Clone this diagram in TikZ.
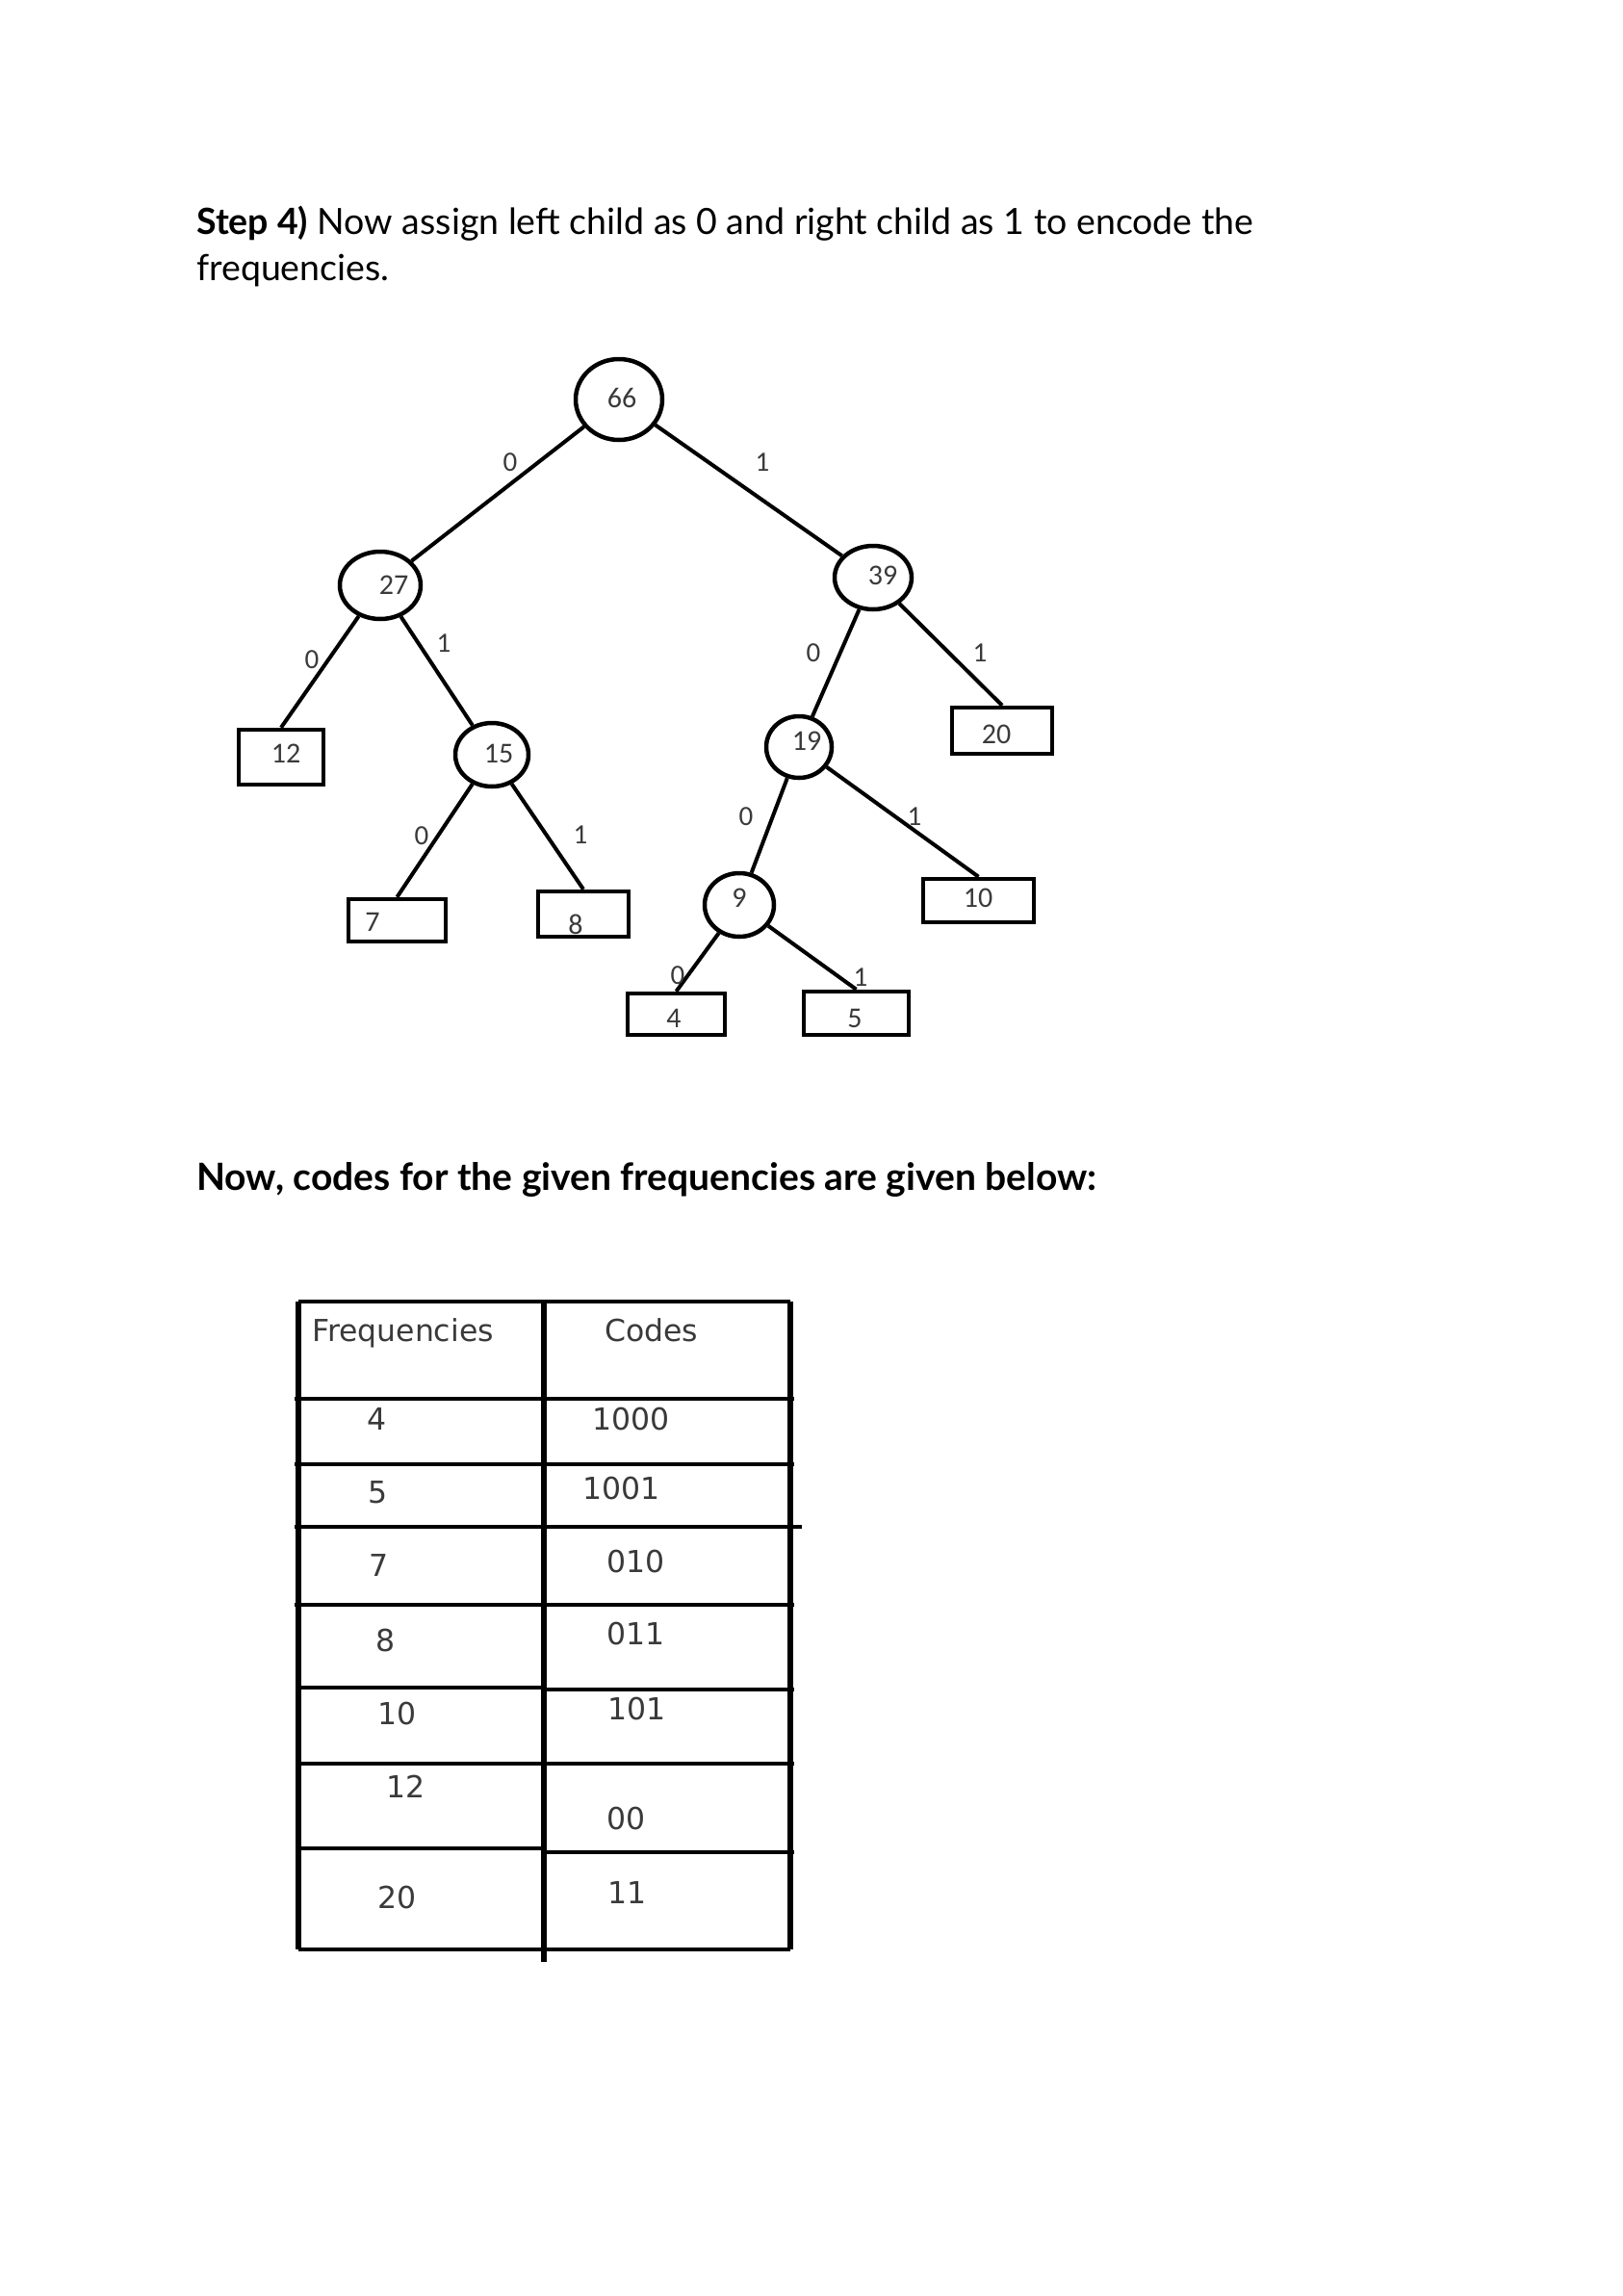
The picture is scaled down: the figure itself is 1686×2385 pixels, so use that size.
\documentclass[tikz,border=0pt]{standalone}
\usepackage{fontspec}
\setmainfont{Lato}
\newfontfamily\treefont{Carlito}
\newfontfamily\tabfont{DejaVu Sans}
\usetikzlibrary{shapes.geometric}
\definecolor{txt}{HTML}{3A3A3A}
\begin{document}
\begin{tikzpicture}[x=1pt,y=-1pt,
  inode/.style={ellipse, draw, line width=4.5pt, inner sep=0pt},
  leaf/.style={rectangle, draw, line width=4.5pt, inner sep=0pt},
  num/.style={font=\treefont\fontsize{30}{30}\selectfont, text=txt, inner sep=0pt},
  edge/.style={line width=4pt},
  bit/.style={font=\treefont\fontsize{29}{29}\selectfont, text=txt, inner sep=0pt},
  cell/.style={font=\tabfont\fontsize{31.5}{31.5}\selectfont, text=txt, inner sep=0pt, anchor=base west},
  hrule/.style={line width=4.5pt},
  vrule/.style={line width=6.5pt},
  head/.style={anchor=base west, inner sep=0pt, font=\fontsize{37.5}{45}\selectfont},
  headb/.style={anchor=base west, inner sep=0pt, font=\bfseries\fontsize{39}{45}\selectfont}
]
\fill[white, use as bounding box] (0,0) rectangle (1686,2385);

% headings
\node[head] (h1) at (204,243) {\textbf{Step 4)} Now assign left child as 0 and right child as 1 to encode the};
\node[head] (h1b) at (204,291) {frequencies.};
\node[headb] (h2) at (204,1236) {Now, codes for the given frequencies are given below:};

% internal nodes
\node[inode, minimum width=90, minimum height=84] (n66) at (643,415) {};
\node[inode, minimum width=84, minimum height=70] (n27) at (395,608) {};
\node[inode, minimum width=76, minimum height=66] (n15) at (511,784) {};
\node[inode, minimum width=80, minimum height=66] (n39) at (907,600) {};
\node[inode, minimum width=68, minimum height=64] (n19) at (830,776) {};
\node[inode, minimum width=72, minimum height=66] (n9) at (768,940) {};

\node[num] (t66) at (646,413) {66};
\node[num] (t27) at (409,608) {27};
\node[num] (t15) at (518,783) {15};
\node[num] (t39) at (917,598) {39};
\node[num] (t19) at (838,770) {19};
\node[num] (t9) at (768,933) {9};

% leaves
\node[leaf, minimum width=88, minimum height=57] (l12) at (292,786.5) {};
\node[leaf, minimum width=101, minimum height=44] (l7) at (412.5,956) {};
\node[leaf, minimum width=94, minimum height=47] (l8) at (606,949.5) {};
\node[leaf, minimum width=104, minimum height=48] (l20) at (1041,759) {};
\node[leaf, minimum width=115, minimum height=45] (l10) at (1016.5,935.5) {};
\node[leaf, minimum width=101, minimum height=43] (l4) at (702.5,1053.5) {};
\node[leaf, minimum width=109, minimum height=45] (l5) at (889.5,1052.5) {};

\node[num] (t12) at (297,783) {12};
\node[num] (t7) at (387,958) {7};
\node[num] (t8) at (598,960) {8};
\node[num] (t20) at (1035,763) {20};
\node[num] (t10) at (1016,933) {10};
\node[num] (t4) at (700,1058) {4};
\node[num] (t5) at (888,1058) {5};

% edges
\draw[edge] (n66) -- (n27);
\draw[edge] (n66) -- (n39);
\draw[edge] (n27) -- (l12.north);
\draw[edge] (n27) -- (n15);
\draw[edge] (n15) -- (l7.north);
\draw[edge] (n15) -- (l8.north);
\draw[edge] (n39) -- (n19);
\draw[edge] (n39) -- (l20.north);
\draw[edge] (n19) -- (n9);
\draw[edge] (n19) -- (l10.north);
\draw[edge] (n9) -- (l4.north);
\draw[edge] (n9) -- (l5.north);

% edge labels
\node[bit] (b1) at (530,480) {0};
\node[bit] (b2) at (792,480) {1};
\node[bit] (b3) at (324,685) {0};
\node[bit] (b4) at (461,668) {1};
\node[bit] (b5) at (845,678) {0};
\node[bit] (b6) at (1018,678) {1};
\node[bit] (b7) at (438,868) {0};
\node[bit] (b8) at (603,867) {1};
\node[bit] (b9) at (775,848) {0};
\node[bit] (b10) at (950,848) {1};
\node[bit] (b11) at (704,1013) {0};
\node[bit] (b12) at (894,1015) {1};

% table
\draw[hrule] (310,1352) -- (821,1352);
\draw[hrule] (310,2025) -- (821,2025);
\draw[vrule] (310,1352) -- (310,2025);
\draw[vrule] (821,1352) -- (821,2025);
\draw[vrule] (565,1352) -- (565,2038);
\draw[hrule] (306,1453) -- (825,1453);
\draw[hrule] (306,1521) -- (825,1521);
\draw[hrule] (306,1586) -- (833,1586);
\draw[hrule] (306,1667) -- (825,1667);
\draw[hrule] (310,1753) -- (565,1753) -- (565,1755) -- (825,1755);
\draw[hrule] (310,1832) -- (825,1832);
\draw[hrule] (310,1920) -- (565,1920) -- (565,1924) -- (825,1924);

\node[cell] (c0a) at (324,1393) {Frequencies};
\node[cell] (c0b) at (628,1393) {Codes};
\node[cell] (c1a) at (381,1485) {4};
\node[cell] (c1b) at (615,1485) {1000};
\node[cell] (c2a) at (382,1561) {5};
\node[cell] (c2b) at (605,1557) {1001};
\node[cell] (c3a) at (383,1637) {7};
\node[cell] (c3b) at (630,1633) {010};
\node[cell] (c4a) at (390,1715) {8};
\node[cell] (c4b) at (630,1708) {011};
\node[cell] (c5a) at (392,1791) {10};
\node[cell] (c5b) at (631,1786) {101};
\node[cell] (c6a) at (401,1867) {12};
\node[cell] (c6b) at (630,1900) {00};
\node[cell] (c7a) at (392,1982) {20};
\node[cell] (c7b) at (631,1977) {11};
\end{tikzpicture}
\end{document}
